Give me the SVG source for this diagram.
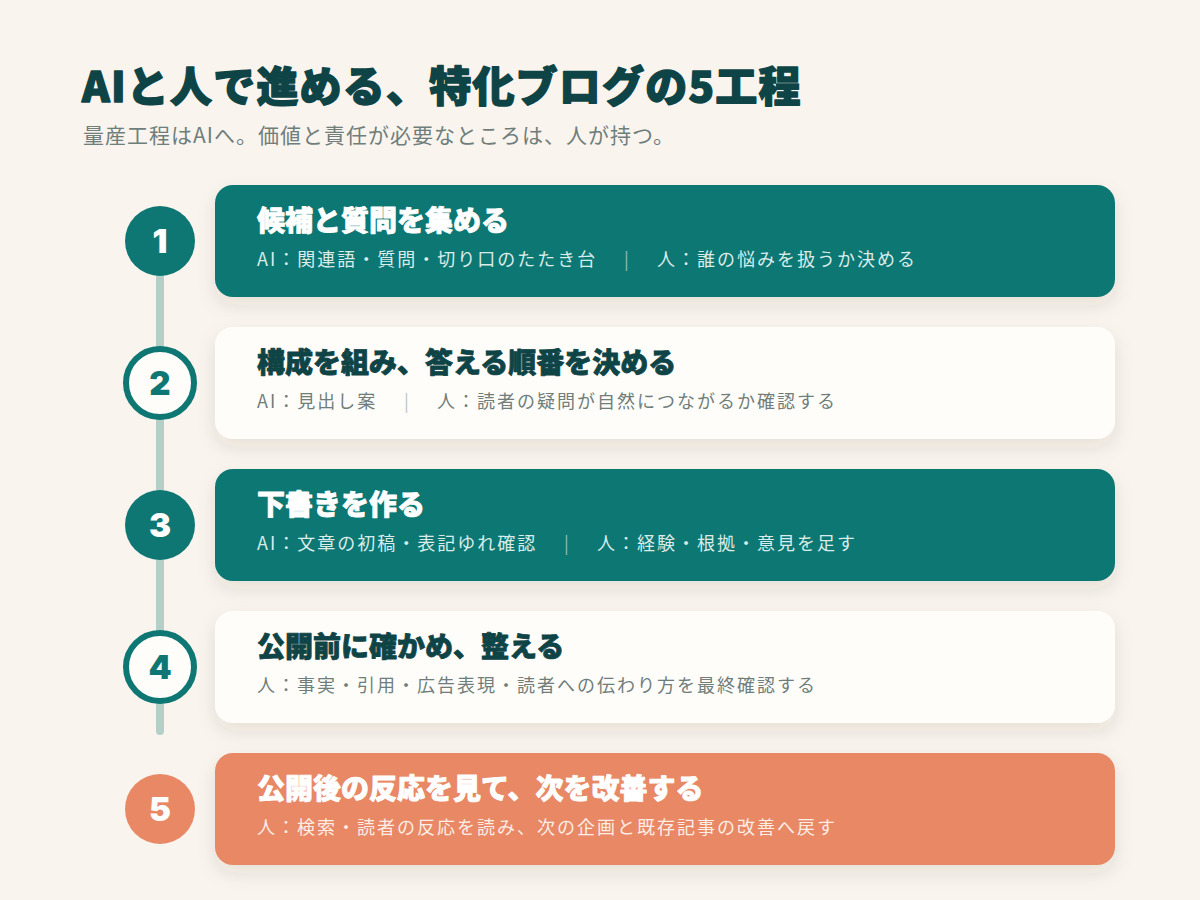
<svg xmlns="http://www.w3.org/2000/svg" width="1200" height="900" viewBox="0 0 1200 900">
  <defs>
    <filter id="shadow" x="-10%" y="-30%" width="120%" height="170%">
      <feDropShadow dx="0" dy="8" stdDeviation="9" flood-color="#3a3020" flood-opacity="0.10"/>
    </filter>
    <style>
      .jp { font-family: "Noto Sans CJK JP", "Noto Sans", sans-serif; }
      .title { font-size: 42px; font-weight: 900; fill: #0F4446; stroke: #0F4446; stroke-width: 1.4px; stroke-linejoin: round; letter-spacing: 1.2px; }
      .subtitle { font-size: 21px; font-weight: 400; fill: #6F7E7B; letter-spacing: 1px; }
      .card-title { font-size: 28px; font-weight: 900; stroke-width: 0.8px; stroke-linejoin: round; }
      .card-sub { font-size: 18px; font-weight: 400; letter-spacing: 2px; }
      .num { font-family: "Inter", "Noto Sans", sans-serif; font-size: 33px; font-weight: 900; text-anchor: middle; }
      .teal-card { fill: #0E7773; }
      .white-card { fill: #FFFDF9; }
      .coral-card { fill: #E88865; }
      .on-dark-title { fill: #FFFFFF; stroke: #FFFFFF; }
      .on-dark-sub { fill: #D9ECE9; }
      .on-coral-sub { fill: #FDEDE5; }
      .on-light-title { fill: #0F4446; stroke: #0F4446; }
      .on-light-sub { fill: #6F7E7B; }
      .sep-dark { fill: #8FBDB8; }
      .sep-light { fill: #BAC5C2; }
    </style>
  </defs>

  <rect x="0" y="0" width="1200" height="900" fill="#FAF4EE"/>

  <g id="header" class="jp">
    <text x="82" y="102" class="title">AIと人で進める、特化ブログの5工程</text>
    <text x="83" y="143" class="subtitle">量産工程はAIへ。価値と責任が必要なところは、人が持つ。</text>
  </g>

  <g id="connectors">
    <line x1="160" y1="250" x2="160" y2="731" stroke="#B6CEC8" stroke-width="8" stroke-linecap="round"/>
  </g>

  <g id="step1" class="jp">
    <rect x="215" y="185" width="900" height="112" rx="18" class="teal-card" filter="url(#shadow)"/>
    <circle cx="160" cy="241" r="35" fill="#0E7773"/>
    <text x="160" y="253" class="num" fill="#FFFFFF">1</text>
    <text x="257" y="231" class="card-title on-dark-title">候補と質問を集める</text>
    <text y="266" class="card-sub on-dark-sub"><tspan x="257">AI：関連語・質問・切り口のたたき台</tspan><tspan x="624" class="sep-dark">|</tspan><tspan x="657">人：誰の悩みを扱うか決める</tspan></text>
  </g>

  <g id="step2" class="jp">
    <rect x="215" y="327" width="900" height="112" rx="18" class="white-card" filter="url(#shadow)"/>
    <circle cx="160" cy="383" r="34" fill="#FFFDF9" stroke="#0E7773" stroke-width="6"/>
    <text x="160" y="395" class="num" fill="#0E7773">2</text>
    <text x="257" y="373" class="card-title on-light-title">構成を組み、答える順番を決める</text>
    <text y="408" class="card-sub on-light-sub"><tspan x="257">AI：見出し案</tspan><tspan x="404" class="sep-light">|</tspan><tspan x="437">人：読者の疑問が自然につながるか確認する</tspan></text>
  </g>

  <g id="step3" class="jp">
    <rect x="215" y="469" width="900" height="112" rx="18" class="teal-card" filter="url(#shadow)"/>
    <circle cx="160" cy="525" r="35" fill="#0E7773"/>
    <text x="160" y="537" class="num" fill="#FFFFFF">3</text>
    <text x="257" y="515" class="card-title on-dark-title">下書きを作る</text>
    <text y="550" class="card-sub on-dark-sub"><tspan x="257">AI：文章の初稿・表記ゆれ確認</tspan><tspan x="564" class="sep-dark">|</tspan><tspan x="597">人：経験・根拠・意見を足す</tspan></text>
  </g>

  <g id="step4" class="jp">
    <rect x="215" y="611" width="900" height="112" rx="18" class="white-card" filter="url(#shadow)"/>
    <circle cx="160" cy="667" r="34" fill="#FFFDF9" stroke="#0E7773" stroke-width="6"/>
    <text x="160" y="679" class="num" fill="#0E7773">4</text>
    <text x="257" y="657" class="card-title on-light-title">公開前に確かめ、整える</text>
    <text x="257" y="692" class="card-sub on-light-sub">人：事実・引用・広告表現・読者への伝わり方を最終確認する</text>
  </g>

  <g id="step5" class="jp">
    <rect x="215" y="753" width="900" height="112" rx="18" class="coral-card" filter="url(#shadow)"/>
    <circle cx="160" cy="809" r="35" fill="#E88865"/>
    <text x="160" y="821" class="num" fill="#FFFFFF">5</text>
    <text x="257" y="799" class="card-title on-dark-title">公開後の反応を見て、次を改善する</text>
    <text x="257" y="834" class="card-sub on-coral-sub">人：検索・読者の反応を読み、次の企画と既存記事の改善へ戻す</text>
  </g>
</svg>
